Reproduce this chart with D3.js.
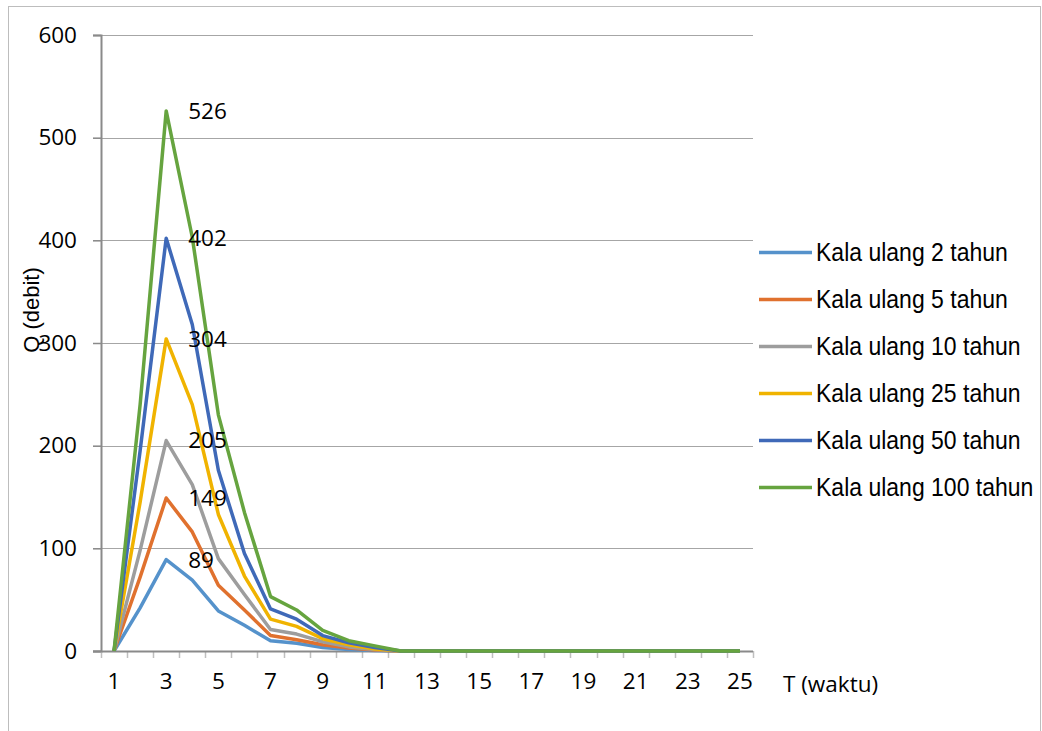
<!DOCTYPE html>
<html>
<head>
<meta charset="utf-8">
<script src="https://cdn.jsdelivr.net/npm/d3@7"></script>
<style>
  html, body { margin: 0; padding: 0; background: #fff; }
  svg { display: block; }
</style>
</head>
<body>
<svg id="chart" width="1042" height="731"></svg>
<script>
// Time steps (T) and discharge (Q) for each return period
const categories = d3.range(1, 26);
const xTickLabels = [1, 3, 5, 7, 9, 11, 13, 15, 17, 19, 21, 23, 25];
const yTickValues = [0, 100, 200, 300, 400, 500, 600];

const seriesNames = [
  "Kala ulang 2 tahun",
  "Kala ulang 5 tahun",
  "Kala ulang 10 tahun",
  "Kala ulang 25 tahun",
  "Kala ulang 50 tahun",
  "Kala ulang 100 tahun"
];
const seriesColors = ["#5592cb", "#e0712e", "#9d9d9d", "#f0b300", "#3f69b8", "#66a43f"];

const q2   = [0, 42, 89, 69, 39, 25, 10, 7.5, 3.5, 1.5, 0.5, 0, 0, 0, 0, 0, 0, 0, 0, 0, 0, 0, 0, 0, 0];
const q5   = [0, 72, 149, 116, 64, 40, 15, 11, 6, 3, 1, 0, 0, 0, 0, 0, 0, 0, 0, 0, 0, 0, 0, 0, 0];
const q10  = [0, 98, 205, 162, 90, 55, 21, 16.5, 9, 4, 1.5, 0, 0, 0, 0, 0, 0, 0, 0, 0, 0, 0, 0, 0, 0];
const q25  = [0, 145, 304, 240, 133, 73, 31, 24, 12, 6, 2, 0, 0, 0, 0, 0, 0, 0, 0, 0, 0, 0, 0, 0, 0];
const q50  = [0, 195, 402, 318, 176, 95, 41, 31, 15, 8, 3.5, 0, 0, 0, 0, 0, 0, 0, 0, 0, 0, 0, 0, 0, 0];
const q100 = [0, 240, 526, 403, 230, 135, 53, 40, 20, 10, 5, 0, 0, 0, 0, 0, 0, 0, 0, 0, 0, 0, 0, 0, 0];

const seriesValues = [q2, q5, q10, q25, q50, q100];
// peak values are labelled at T = 3
const labelIndex = 2;

const svg = d3.select("#chart");
const plot = { left: 101, right: 753, top: 35, bottom: 651 };
const tickFont = "'Open Sans', 'Liberation Sans', sans-serif";

const x = d3.scaleBand().domain(categories).range([plot.left, plot.right]).padding(0);
const y = d3.scaleLinear().domain([0, 600]).range([plot.bottom, plot.top]);
const xc = d => x(d) + x.bandwidth() / 2;

// outer chart frame
svg.append("rect")
  .attr("x", 8.5).attr("y", 6.5).attr("width", 1032).attr("height", 740)
  .attr("fill", "none").attr("stroke", "#bdbdbd").attr("stroke-width", 1);

// horizontal gridlines
svg.append("g").selectAll("line")
  .data(yTickValues.filter(v => v > 0))
  .join("line")
  .attr("x1", plot.left - 8).attr("x2", plot.right)
  .attr("y1", d => Math.round(y(d)) + 0.5).attr("y2", d => Math.round(y(d)) + 0.5)
  .attr("stroke", "#a6a6a6").attr("stroke-width", 1.2);

// y axis
const yAxis = svg.append("g")
  .attr("transform", `translate(${plot.left},0)`)
  .call(d3.axisLeft(y).tickValues(yTickValues).tickSize(8).tickPadding(16));
yAxis.select(".domain").attr("stroke", "#8a8a8a").attr("stroke-width", 2);
yAxis.selectAll(".tick line").attr("stroke", "#8a8a8a").attr("stroke-width", 1.5);
yAxis.selectAll(".tick text")
  .attr("font-family", tickFont).attr("font-size", 22.5).attr("fill", "#000");

// x axis: labels on odd categories, tick marks on category boundaries
const xAxis = svg.append("g")
  .attr("transform", `translate(0,${plot.bottom})`)
  .call(d3.axisBottom(x).tickValues(xTickLabels).tickSize(0).tickPadding(22));
xAxis.select(".domain").remove();
xAxis.selectAll(".tick text")
  .attr("font-family", tickFont).attr("font-size", 22.5).attr("fill", "#000");

const edges = categories.map(c => x(c)).concat([x(categories[categories.length - 1]) + x.bandwidth()]);
svg.append("g").selectAll("line")
  .data(edges)
  .join("line")
  .attr("x1", d => Math.round(d) + 0.5).attr("x2", d => Math.round(d) + 0.5)
  .attr("y1", plot.bottom).attr("y2", plot.bottom + 7)
  .attr("stroke", "#bfbfbf").attr("stroke-width", 1.5);
svg.append("line")
  .attr("x1", plot.left - 8).attr("x2", plot.right)
  .attr("y1", plot.bottom + 0.5).attr("y2", plot.bottom + 0.5)
  .attr("stroke", "#8a8a8a").attr("stroke-width", 2);

// axis titles
svg.append("text")
  .attr("transform", `translate(39,310) rotate(-90)`)
  .attr("text-anchor", "middle")
  .attr("font-family", "'Liberation Sans', Arial, sans-serif")
  .attr("font-size", 22).attr("fill", "#000")
  .text("Q (debit)");

svg.append("text")
  .attr("x", 783).attr("y", 692)
  .attr("font-family", tickFont).attr("font-size", 22.5).attr("fill", "#000")
  .text("T (waktu)");

// hydrograph lines
const line = d3.line()
  .x((d, i) => xc(categories[i]))
  .y(d => y(d));

svg.append("g").selectAll("path")
  .data(seriesValues)
  .join("path")
  .attr("d", d => line(d))
  .attr("fill", "none")
  .attr("stroke", (d, i) => seriesColors[i])
  .attr("stroke-width", 3.5)
  .attr("stroke-linejoin", "round");

// peak value labels
svg.append("g").selectAll("text")
  .data(seriesValues)
  .join("text")
  .attr("x", xc(categories[labelIndex]) + 22)
  .attr("y", d => y(d[labelIndex]))
  .attr("dy", "0.35em")
  .attr("font-family", tickFont).attr("font-size", 22.5).attr("fill", "#000")
  .text(d => d[labelIndex]);

// legend
const legend = svg.append("g");
const legendRows = legend.selectAll("g")
  .data(seriesNames)
  .join("g")
  .attr("transform", (d, i) => `translate(759,${252.5 + i * 47})`);
legendRows.append("line")
  .attr("x1", 0).attr("x2", 53).attr("y1", 0).attr("y2", 0)
  .attr("stroke", (d, i) => seriesColors[i]).attr("stroke-width", 3.5);
legendRows.append("text")
  .attr("transform", "translate(57,0) scale(0.92,1)")
  .attr("dy", "0.35em")
  .attr("font-family", "'Liberation Sans', Arial, sans-serif")
  .attr("font-size", 25).attr("fill", "#000")
  .text(d => d);
</script>
</body>
</html>
